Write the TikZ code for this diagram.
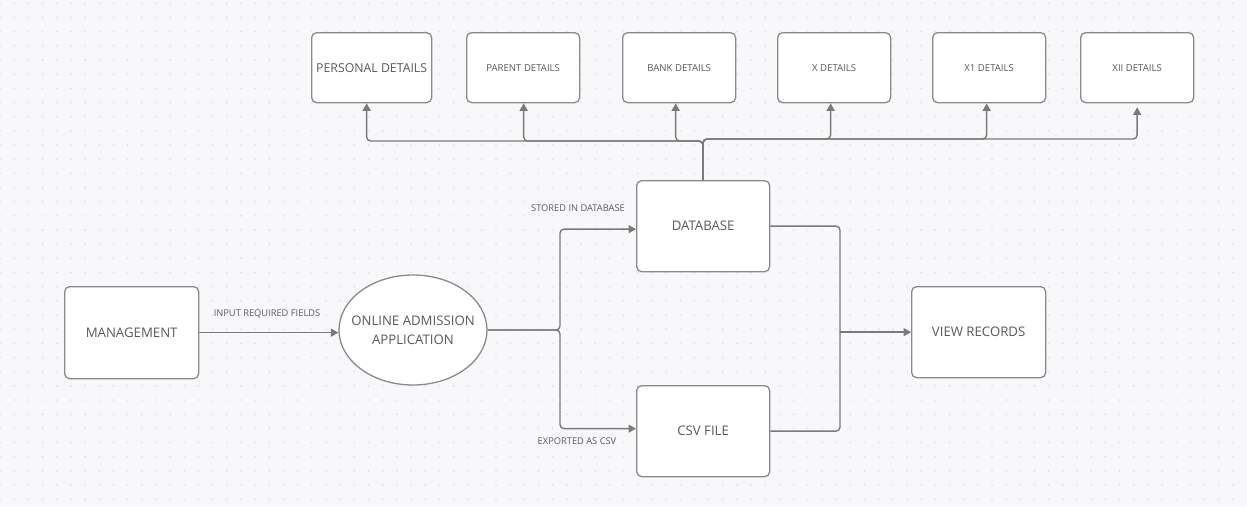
\documentclass[tikz,border=0pt]{standalone}
\usepackage{fontspec}
\setmainfont{Open Sans}
\usetikzlibrary{arrows.meta,shapes.geometric}
\definecolor{bg}{HTML}{F8F8FA}
\definecolor{dotc}{HTML}{E0E0E5}
\definecolor{edge}{HTML}{8A8A8A}
\definecolor{wire}{HTML}{7A7A7A}
\definecolor{txt}{HTML}{5A5A5A}
\tikzset{
  box/.style={draw=edge, line width=1.3pt, fill=white, rounded corners=5pt, text=txt, inner sep=0pt, anchor=north west},
  big/.style={font=\fontsize{13.2}{16}\selectfont},
  small/.style={font=\fontsize{9.6}{11}\selectfont},
  lbl/.style={text=txt, font=\fontsize{9.3}{10}\selectfont, inner sep=0pt},
  wirestyle/.style={draw=wire, line width=1.4pt, rounded corners=4pt},
  arr/.style={wirestyle, -{Triangle[length=7.5pt,width=8pt]}},
}
\begin{document}
\begin{tikzpicture}[x=1pt,y=-1pt]
\useasboundingbox (0,0) rectangle (1247,507);
\fill[bg] (0,0) rectangle (1247,507);
\foreach \i in {0,...,87}{\foreach \j in {0,...,35}{\fill[dotc] (0.1+\i*14.17,3.3+\j*14.17) circle (0.9);}}
% top boxes
\node[box,font=\fontsize{12.3}{15}\selectfont,minimum width=120pt,minimum height=70pt] (pd) at (311,32) {PERSONAL DETAILS};
\node[box,small,minimum width=113pt,minimum height=70pt] (pa) at (466,32) {PARENT DETAILS};
\node[box,small,minimum width=113pt,minimum height=70pt] (bk) at (622,32) {BANK DETAILS};
\node[box,small,minimum width=113pt,minimum height=70pt] (xd) at (777,32) {X DETAILS};
\node[box,small,minimum width=113pt,minimum height=70pt] (x1) at (932,32) {X1 DETAILS};
\node[box,small,minimum width=113pt,minimum height=70pt] (x2) at (1080,32) {XII DETAILS};
% middle
\node[box,big,minimum width=133pt,minimum height=91pt] (db) at (636,180) {DATABASE};
\node[box,big,minimum width=133pt,minimum height=91pt] (csv) at (636,385) {CSV FILE};
\node[box,big,minimum width=134pt,minimum height=91pt] (vr) at (911,286) {VIEW RECORDS};
\node[box,big,minimum width=134pt,minimum height=92pt] (mg) at (64,286) {MANAGEMENT};
\node[ellipse,draw=edge,line width=1.3pt,fill=white,inner sep=0pt,minimum width=148pt,minimum height=110pt] (oa) at (413,330) {};
\node[text=txt,align=center,inner sep=0pt,font=\fontsize{13.2}{18.7}\selectfont] (oat) at (oa.center) {ONLINE ADMISSION\\APPLICATION};
% bus to detail boxes
\coordinate (busL) at (703,141);
\coordinate (busR) at (703,139);
\draw[arr] (db.north) -- (busL) -| ([xshift=-5pt]pd.south);
\draw[arr] (db.north) -- (busL) -| ([xshift=0.5pt]pa.south);
\draw[arr] (db.north) -- (busL) -| ([xshift=-3.5pt]bk.south);
\draw[arr] (db.north) -- (busR) -| ([xshift=-3.5pt]xd.south);
\draw[arr] (db.north) -- (busR) -| ([xshift=-2.5pt]x1.south);
\draw[arr] (db.north) -- (busR) -| ([yshift=-4pt]x2.south);
% input
\draw[arr] (mg.east) -- (mg.east -| oa.west);
\node[lbl] (l1) at (267,314) {INPUT REQUIRED FIELDS};
% split
\coordinate (split) at (560,330);
\draw[arr] (oa.east) -- (split) |- ([yshift=-3pt]db.west);
\draw[arr] (oa.east) -- (split) |- ([yshift=2.5pt]csv.west);
\node[lbl] (l2) at (578,208) {STORED IN DATABASE};
\node[lbl] (l3) at (577,441.5) {EXPORTED AS CSV};
% merge
\coordinate (merge) at (vr.west -| 840,0);
\draw[wirestyle] (db.east) -| (merge);
\draw[wirestyle] (csv.east) -| (merge);
\draw[arr] (merge) -- (vr.west);
\end{tikzpicture}
\end{document}
